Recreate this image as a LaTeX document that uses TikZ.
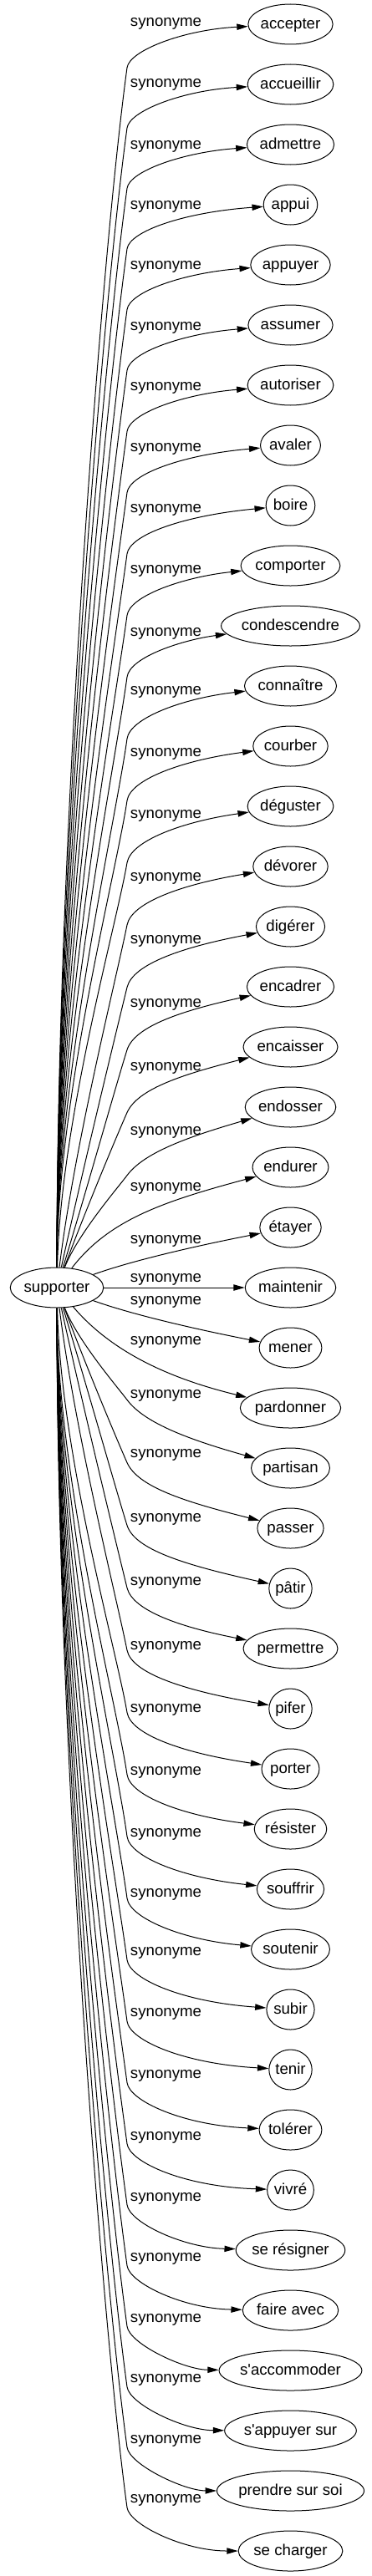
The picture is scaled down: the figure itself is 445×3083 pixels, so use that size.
\documentclass[tikz,border=0pt]{standalone}
\usepackage{fontspec}
\setmainfont{Liberation Sans}[Ligatures=TeXOff]
\usetikzlibrary{arrows.meta,shapes.geometric}
\newcommand\synfont{\fontsize{14pt}{17pt}\selectfont}
\newlength\wlen
\tikzset{
  every node/.style={font=\synfont, text=black},
  tgt/.style={draw, ellipse, line width=0.75pt, inner xsep=0pt, inner ysep=0pt,
    minimum height=36pt, text height=11pt, text depth=3pt},
  lab/.style={inner sep=0pt, anchor=base},
  syn/.style={draw, line width=0.75pt, -{Triangle[length=10pt,width=5.5pt]}},
}
\newcommand\enode[4]{%
  \settowidth{\wlen}{\synfont #4}%
  \node[tgt, minimum width=1.2\wlen+23.6pt] (#1) at (#2,#3) {#4};}
\newcommand\tnode[3]{\enode{#1}{347.5}{29+72*#2}{#3}}
\newcommand\bent[4]{% #1 target, #2 index, #3 side (-1 top, 1 bottom), #4 label y
  \pgfmathsetmacro\eT{29+72*#2}%
  \pgfmathsetmacro\eM{min(#2,42-#2)}%
  \pgfmathsetmacro\eH{52+0.0917*\eM*\eM}%
  \pgfmathsetmacro\eB{\eT-(#3)*\eH}%
  \pgfmathsetmacro\eY{1541+(#3)*24}%
  \pgfmathsetmacro\eS{(#3)*(\eB-\eY)}%
  \pgfmathsetmacro\eR{7.3*min(1,\eS/600)}%
  \pgfmathsetmacro\eN{sqrt(1+\eR*\eR)}%
  \pgfmathsetmacro\eU{0.155*\eS/\eN}%
  \pgfmathsetmacro\eV{0.4*\eH/\eN}%
  \pgfmathsetmacro\eD{0.36*\eS*max(0,1-\eS/500)*0.8}%
  \pgfmathsetmacro\eE{0.05*\eM*\eM}%
  \pgfmathsetmacro\pAx{68+\eD}%
  \pgfmathsetmacro\pAy{\eY+(#3)*0.36*\eS}%
  \pgfmathsetmacro\pBx{152-\eU}%
  \pgfmathsetmacro\pBy{\eB-(#3)*\eR*\eU}%
  \pgfmathsetmacro\pCx{152+\eV}%
  \pgfmathsetmacro\pCy{\eB+(#3)*\eR*\eV}%
  \pgfmathsetmacro\pDy{(#3)<0 ? #4+8 : \eT-2.2*\eE}%
  \draw[syn] (src) .. controls (\pAx,\pAy) and (\pBx,\pBy) .. (152,\eB)
     .. controls (\pCx,\pCy) and (220,\pDy) .. (#1);%
}
\begin{document}
\begin{tikzpicture}[x=0.75pt,y=-0.75pt]
\useasboundingbox (0,0) rectangle (445,3083);
\enode{src}{68}{1541}{supporter}
\tnode{t0}{0}{accepter}
\tnode{t1}{1}{accueillir}
\tnode{t2}{2}{admettre}
\tnode{t3}{3}{appui}
\tnode{t4}{4}{appuyer}
\tnode{t5}{5}{assumer}
\tnode{t6}{6}{autoriser}
\tnode{t7}{7}{avaler}
\tnode{t8}{8}{boire}
\tnode{t9}{9}{comporter}
\tnode{t10}{10}{condescendre}
\tnode{t11}{11}{connaître}
\tnode{t12}{12}{courber}
\tnode{t13}{13}{déguster}
\tnode{t14}{14}{dévorer}
\tnode{t15}{15}{digérer}
\tnode{t16}{16}{encadrer}
\tnode{t17}{17}{encaisser}
\tnode{t18}{18}{endosser}
\tnode{t19}{19}{endurer}
\tnode{t20}{20}{étayer}
\tnode{t21}{21}{maintenir}
\tnode{t22}{22}{mener}
\tnode{t23}{23}{pardonner}
\tnode{t24}{24}{partisan}
\tnode{t25}{25}{passer}
\tnode{t26}{26}{pâtir}
\tnode{t27}{27}{permettre}
\tnode{t28}{28}{pifer}
\tnode{t29}{29}{porter}
\tnode{t30}{30}{résister}
\tnode{t31}{31}{souffrir}
\tnode{t32}{32}{soutenir}
\tnode{t33}{33}{subir}
\tnode{t34}{34}{tenir}
\tnode{t35}{35}{tolérer}
\tnode{t36}{36}{vivré}
\tnode{t37}{37}{se résigner}
\tnode{t38}{38}{faire avec}
\tnode{t39}{39}{s'accommoder}
\tnode{t40}{40}{s'appuyer sur}
\tnode{t41}{41}{prendre sur soi}
\tnode{t42}{42}{se charger}
% labels
\node[lab] (l0) at (198.5,31.5) {synonyme};
\node[lab] (l1) at (198.5,104) {synonyme};
\node[lab] (l2) at (198.5,178) {synonyme};
\node[lab] (l3) at (198.5,250) {synonyme};
\node[lab] (l4) at (198.5,322.5) {synonyme};
\node[lab] (l5) at (198.5,395) {synonyme};
\node[lab] (l6) at (198.5,467.5) {synonyme};
\node[lab] (l7) at (198.5,540) {synonyme};
\node[lab] (l8) at (198.5,613) {synonyme};
\node[lab] (l9) at (198.5,686.5) {synonyme};
\node[lab] (l10) at (198.5,761.5) {synonyme};
\node[lab] (l11) at (198.5,831.5) {synonyme};
\node[lab] (l12) at (198.5,905.5) {synonyme};
\node[lab] (l13) at (198.5,979) {synonyme};
\node[lab] (l14) at (198.5,1054) {synonyme};
\node[lab] (l15) at (198.5,1129) {synonyme};
\node[lab] (l16) at (198.5,1205) {synonyme};
\node[lab] (l17) at (198.5,1281.5) {synonyme};
\node[lab] (l18) at (198.5,1358) {synonyme};
\node[lab] (l19) at (198.5,1425) {synonyme};
\node[lab] (l20) at (198.5,1488) {synonyme};
\node[lab] (l21) at (198.5,1534) {synonyme};
\node[lab] (l22) at (198.5,1561) {synonyme};
\node[lab] (l23) at (198.5,1609) {synonyme};
\node[lab] (l24) at (198.5,1673) {synonyme};
\node[lab] (l25) at (198.5,1744) {synonyme};
\node[lab] (l26) at (198.5,1821.5) {synonyme};
\node[lab] (l27) at (198.5,1897.5) {synonyme};
\node[lab] (l28) at (198.5,1974) {synonyme};
\node[lab] (l29) at (198.5,2049) {synonyme};
\node[lab] (l30) at (198.5,2124) {synonyme};
\node[lab] (l31) at (198.5,2198) {synonyme};
\node[lab] (l32) at (198.5,2270.5) {synonyme};
\node[lab] (l33) at (198.5,2340.5) {synonyme};
\node[lab] (l34) at (198.5,2413) {synonyme};
\node[lab] (l35) at (198.5,2487) {synonyme};
\node[lab] (l36) at (198.5,2561.5) {synonyme};
\node[lab] (l37) at (198.5,2634) {synonyme};
\node[lab] (l38) at (198.5,2706.5) {synonyme};
\node[lab] (l39) at (198.5,2779) {synonyme};
\node[lab] (l40) at (198.5,2851.5) {synonyme};
\node[lab] (l41) at (198.5,2924) {synonyme};
\node[lab] (l42) at (198.5,2995) {synonyme};
% edges, upper half
\bent{t0}{0}{-1}{27.5}
\bent{t1}{1}{-1}{100}
\bent{t2}{2}{-1}{174}
\bent{t3}{3}{-1}{246}
\bent{t4}{4}{-1}{318.5}
\bent{t5}{5}{-1}{391}
\bent{t6}{6}{-1}{463.5}
\bent{t7}{7}{-1}{536}
\bent{t8}{8}{-1}{609}
\bent{t9}{9}{-1}{682.5}
\bent{t10}{10}{-1}{757.5}
\bent{t11}{11}{-1}{827.5}
\bent{t12}{12}{-1}{901.5}
\bent{t13}{13}{-1}{975}
\bent{t14}{14}{-1}{1050}
\bent{t15}{15}{-1}{1125}
\bent{t16}{16}{-1}{1201}
\bent{t17}{17}{-1}{1277.5}
\bent{t18}{18}{-1}{1354}
% middle edges
\draw[syn] (src) .. controls (130,1460) and (195,1438) .. (t19);
\draw[syn] (src) .. controls (160,1508) and (240,1490) .. (t20);
\draw[syn] (src) -- (t21);
\draw[syn] (src) .. controls (160,1574) and (240,1592) .. (t22);
\draw[syn] (src) .. controls (130,1614) and (195,1648) .. (t23);
% edges, lower half
\bent{t24}{24}{1}{0}
\bent{t25}{25}{1}{0}
\bent{t26}{26}{1}{0}
\bent{t27}{27}{1}{0}
\bent{t28}{28}{1}{0}
\bent{t29}{29}{1}{0}
\bent{t30}{30}{1}{0}
\bent{t31}{31}{1}{0}
\bent{t32}{32}{1}{0}
\bent{t33}{33}{1}{0}
\bent{t34}{34}{1}{0}
\bent{t35}{35}{1}{0}
\bent{t36}{36}{1}{0}
\bent{t37}{37}{1}{0}
\bent{t38}{38}{1}{0}
\bent{t39}{39}{1}{0}
\bent{t40}{40}{1}{0}
\bent{t41}{41}{1}{0}
\bent{t42}{42}{1}{0}
\end{tikzpicture}
\end{document}
